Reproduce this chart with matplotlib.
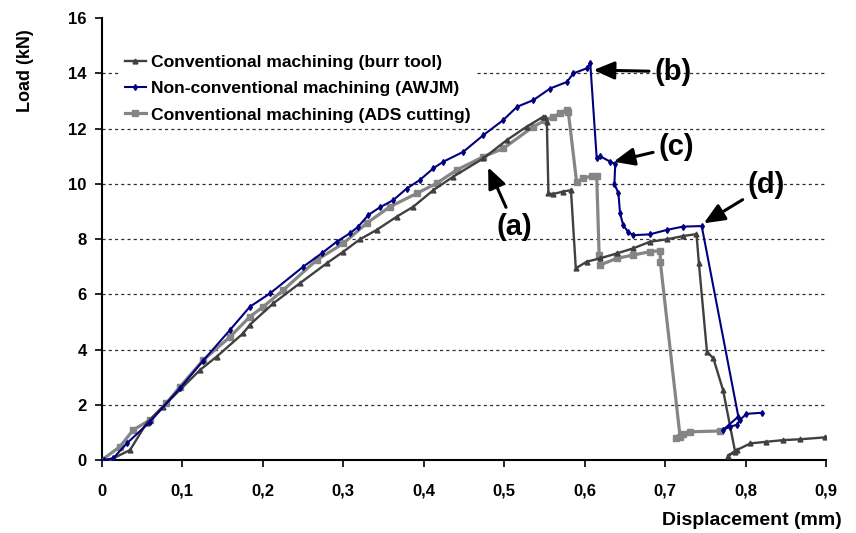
import matplotlib
matplotlib.use("Agg")
import matplotlib.pyplot as plt
from matplotlib.ticker import FuncFormatter

plt.rcParams['font.family'] = ['Liberation Sans', 'DejaVu Sans']
plt.rcParams['font.weight'] = 'bold'
plt.rcParams['axes.labelweight'] = 'bold'

# Conventional machining (burr tool)
burr_x = [0, 0.010, 0.035, 0.0555, 0.076, 0.122, 0.1426, 0.1757, 0.184, 0.213, 0.2461, 0.2793,
          0.300, 0.3207, 0.3415, 0.3664, 0.387, 0.4119, 0.4367, 0.474, 0.5031, 0.528, 0.5486,
          0.551, 0.553, 0.555, 0.561, 0.573, 0.583, 0.589, 0.6025, 0.619, 0.640, 0.660, 0.681,
          0.702, 0.7227, 0.739, 0.742, 0.752, 0.760, 0.772, 0.787, 0.778, 0.789, 0.806, 0.826,
          0.847, 0.868, 0.899]
burr_y = [0, 0, 0.36, 1.33, 1.93, 3.26, 3.74, 4.59, 4.9, 5.67, 6.40, 7.12,
          7.54, 7.99, 8.33, 8.81, 9.17, 9.77, 10.26, 10.92, 11.58, 12.07, 12.43,
          12.43, 12.25, 9.65, 9.63, 9.72, 9.77, 6.94, 7.18, 7.30, 7.48, 7.66, 7.90,
          7.99, 8.11, 8.18, 7.12, 3.92, 3.68, 2.53, 0.30, 0.15, 0.36, 0.60, 0.66,
          0.72, 0.75, 0.82]

# Non-conventional machining (AWJM)
awjm_x = [0.003, 0.014, 0.031, 0.060, 0.097, 0.126, 0.159, 0.184, 0.2089, 0.2503, 0.2731,
          0.2917, 0.3083, 0.3187, 0.3311, 0.3456, 0.3622, 0.3788, 0.3953, 0.4119, 0.4243,
          0.4492, 0.474, 0.4989, 0.516, 0.5362, 0.557, 0.578, 0.586, 0.6025, 0.607, 0.615,
          0.619, 0.632, 0.638, 0.637, 0.642, 0.644, 0.648, 0.654, 0.660, 0.681, 0.702, 0.722,
          0.7455, 0.791, 0.772, 0.781, 0.789, 0.793, 0.801, 0.820]
awjm_y = [0, 0.06, 0.60, 1.39, 2.60, 3.60, 4.70, 5.55, 6.03, 7.00, 7.48,
          7.90, 8.21, 8.45, 8.87, 9.15, 9.41, 9.83, 10.14, 10.56, 10.80,
          11.16, 11.76, 12.31, 12.79, 13.03, 13.45, 13.69, 14.00, 14.18, 14.36, 10.92,
          11.00, 10.80, 10.72, 10.00, 9.65, 8.93, 8.50, 8.26, 8.14, 8.17, 8.33, 8.45,
          8.47, 1.57, 1.09, 1.21, 1.27, 1.45, 1.67, 1.71]

# Conventional machining (ADS cutting)
ads_x = [0, 0.0224, 0.039, 0.060, 0.080, 0.097, 0.126, 0.159, 0.184, 0.2005, 0.2254, 0.2669,
         0.300, 0.329, 0.358, 0.3912, 0.4161, 0.4409, 0.474, 0.4989, 0.5362, 0.551, 0.561,
         0.5694, 0.578, 0.5797, 0.590, 0.598, 0.609, 0.615, 0.618, 0.619, 0.640, 0.660, 0.681,
         0.694, 0.694, 0.7186, 0.714, 0.722, 0.731, 0.768]
ads_y = [0, 0.48, 1.09, 1.45, 2.05, 2.65, 3.62, 4.45, 5.19, 5.55, 6.15, 7.24,
         7.84, 8.57, 9.17, 9.65, 10.02, 10.50, 10.98, 11.28, 12.07, 12.30, 12.43,
         12.55, 12.69, 12.60, 10.07, 10.20, 10.28, 10.28, 7.42, 7.06, 7.30, 7.42, 7.54,
         7.58, 7.18, 0.84, 0.78, 0.95, 1.02, 1.05]

labels = ['Conventional machining (burr tool)',
          'Non-conventional machining (AWJM)',
          'Conventional machining (ADS cutting)']

fig = plt.figure(figsize=(8.56, 5.33), dpi=100)
ax = fig.add_axes([0.119, 0.137, 0.846, 0.829])

ax.plot(burr_x, burr_y, color='#404040', lw=1.7, marker='^', ms=3.5, label=labels[0], zorder=3)
ax.plot(awjm_x, awjm_y, color='#000080', lw=1.5, marker='d', ms=3, label=labels[1], zorder=4)
ax.plot(ads_x, ads_y, color='#858585', lw=2.3, marker='s', ms=4, label=labels[2], zorder=2)

ax.set_xlim(0, 0.9)
ax.set_ylim(0, 16)
ax.set_xticks([i / 10 for i in range(10)])
ax.set_yticks(range(0, 17, 2))
ax.xaxis.set_major_formatter(FuncFormatter(lambda v, p: '0' if v == 0 else f'{v:.1f}'.replace('.', ',')))

for yv in range(2, 16, 2):
    ax.axhline(yv, color='#303030', lw=0.9, ls=(0, (2.5, 2.5)), zorder=1)

for s in ['top', 'right']:
    ax.spines[s].set_visible(False)
for s in ['left', 'bottom']:
    ax.spines[s].set_linewidth(1.5)
ax.tick_params(direction='out', length=5, width=1.2, labelsize=12)
ax.tick_params(axis='x', pad=12)
ax.tick_params(axis='y', pad=6)

ax.set_ylabel('Load (kN)', fontsize=13)
ax.yaxis.set_label_coords(-0.106, 0.882)
ax.yaxis.label.set_verticalalignment('center')
ax.set_xlabel('Displacement (mm)', fontsize=14)
ax.xaxis.set_label_coords(1.022, -0.138)
ax.xaxis.label.set_horizontalalignment('right')
ax.xaxis.label.set_verticalalignment('center')

leg = ax.legend(loc='upper left', bbox_to_anchor=(0.012, 0.948), fontsize=12.6,
                frameon=True, fancybox=False, edgecolor='none', framealpha=1,
                handlelength=1.25, handletextpad=0.25, labelspacing=0.62, borderpad=0.3)
leg.set_zorder(5)

arrow = dict(arrowstyle='-|>,head_length=0.7,head_width=0.3', color='black', lw=2.2,
             shrinkA=2, shrinkB=0, mutation_scale=18)
ax.annotate('(b)', xy=(0.611, 14.12), xytext=(0.710, 14.06), fontsize=21,
            ha='center', va='center', arrowprops=arrow)
ax.annotate('(c)', xy=(0.636, 10.8), xytext=(0.714, 11.34), fontsize=21,
            ha='center', va='center', arrowprops=arrow)
ax.annotate('(d)', xy=(0.748, 8.57), xytext=(0.826, 9.95), fontsize=21,
            ha='center', va='center', arrowprops=arrow)
ax.annotate('(a)', xy=(0.480, 10.6), xytext=(0.513, 8.45), fontsize=21,
            ha='center', va='center', arrowprops=arrow)

fig.savefig('out.png', dpi=100)
